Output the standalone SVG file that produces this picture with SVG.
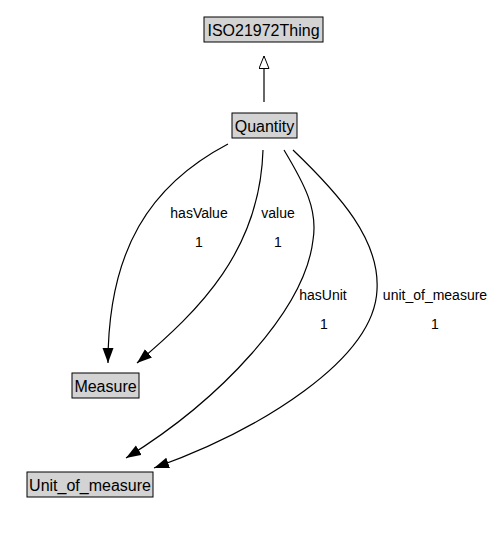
<svg xmlns="http://www.w3.org/2000/svg" width="500" height="535" viewBox="0 0 500 535">
<style>
.node rect{fill:#d3d3d3;stroke:#000;stroke-width:1}
.node text{font-family:"Liberation Sans",Arial,sans-serif;font-size:16px;text-anchor:middle;fill:#000}
.edge{fill:none;stroke:#000;stroke-width:1.2}
.lbl{font-family:"Liberation Sans",Arial,sans-serif;font-size:14px;text-anchor:middle;fill:#000}
</style>
<defs>
<marker id="arr" markerUnits="userSpaceOnUse" markerWidth="16" markerHeight="12" refX="15" refY="5.5" orient="auto">
<path d="M0,0 L15,5.5 L0,11 z" fill="#000"/>
</marker>
<marker id="tri" markerUnits="userSpaceOnUse" markerWidth="14" markerHeight="12" refX="13" refY="5.5" orient="auto">
<path d="M0.5,0.5 L13,5.5 L0.5,10.5 z" fill="#fff" stroke="#000" stroke-width="1"/>
</marker>
</defs>
<rect width="500" height="535" fill="#fff"/>
<g id="connectors">
<path class="edge" d="M264,102 L264,56" marker-end="url(#tri)"/>
<path class="edge" d="M228,144 C150,185 108,250 108,363" marker-end="url(#arr)"/>
<path class="edge" d="M263,150 C260,250 200,310 137,363" marker-end="url(#arr)"/>
<path class="edge" d="M284,150 C305,185 318,210 313,240 C305,310 220,400 126,458" marker-end="url(#arr)"/>
<path class="edge" d="M293,150 C340,195 380,240 377,290 C374,360 260,430 154,468" marker-end="url(#arr)"/>
<text class="lbl" x="199" y="218">hasValue</text>
<text class="lbl" x="199" y="247">1</text>
<text class="lbl" x="278" y="218">value</text>
<text class="lbl" x="278" y="247">1</text>
<text class="lbl" x="323" y="300">hasUnit</text>
<text class="lbl" x="324" y="329">1</text>
<text class="lbl" x="435" y="300">unit_of_measure</text>
<text class="lbl" x="435" y="329">1</text>
</g>
<g id="ISO21972Thing" class="node"><rect x="204" y="17" width="119" height="25"/><text x="263.5" y="36">ISO21972Thing</text></g>
<g id="Quantity" class="node"><rect x="232" y="113" width="65" height="25"/><text x="264.5" y="132">Quantity</text></g>
<g id="Measure" class="node"><rect x="72" y="373" width="67" height="25"/><text x="105.5" y="392">Measure</text></g>
<g id="Unit_of_measure" class="node"><rect x="27" y="472" width="126" height="25"/><text x="90" y="491">Unit_of_measure</text></g>
</svg>
